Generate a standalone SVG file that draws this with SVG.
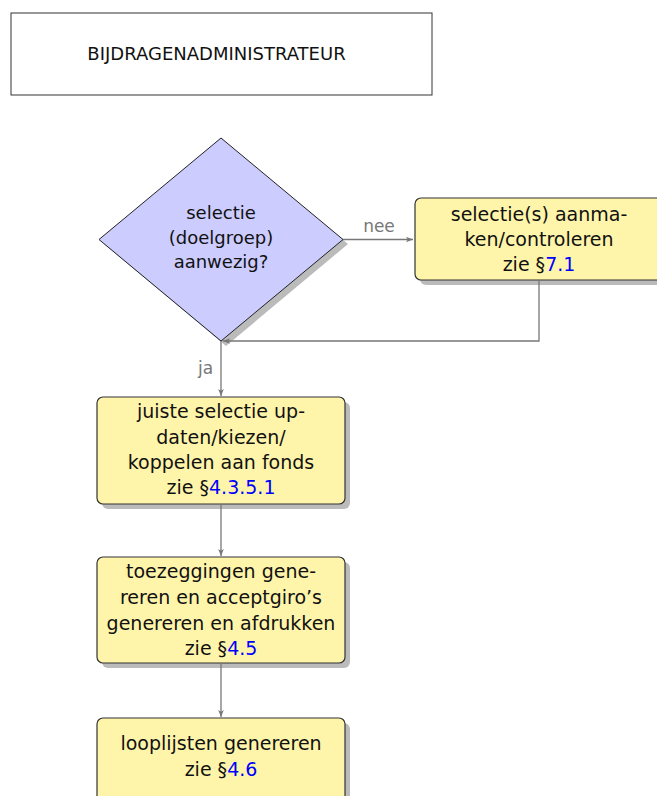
<svg xmlns="http://www.w3.org/2000/svg" width="657" height="796" viewBox="0 0 657 796">
<style>
text{font-family:"DejaVu Sans",Verdana,sans-serif;font-size:19px;fill:#111;text-anchor:middle}
.t18{font-size:18px}
.lbl{fill:#777;font-size:17px}
.ref{fill:#0000ff}
.box{fill:#fff5aa;stroke:#333;stroke-width:1.2}
.shadow{fill:#bbb}
.dia{fill:#ccccff;stroke:#222;stroke-width:1}
.conn{fill:none;stroke:#777;stroke-width:1.3}
</style>
<defs>
<marker id="arr" viewBox="0 0 10 10" refX="10" refY="5" markerWidth="7" markerHeight="7" markerUnits="userSpaceOnUse" orient="auto">
<path d="M0,1 L10,5 L0,9 L2.5,5 Z" fill="#777"/>
</marker>
</defs>
<rect width="657" height="796" fill="#fff"/>
<g id="title">
<rect x="11" y="13" width="421" height="82" fill="#fff" stroke="#333" stroke-width="1"/>
<text class="t18" x="216.5" y="60">BIJDRAGENADMINISTRATEUR</text>
</g>
<g id="decision">
<polygon class="shadow" points="226,143 348,244 226,346 104,244"/>
<polygon class="dia" points="221,138 343,239.5 221,341 99,239.5"/>
<text class="t18" x="221" y="219">selectie</text>
<text class="t18" x="221" y="243.5">(doelgroep)</text>
<text class="t18" x="221" y="268">aanwezig?</text>
</g>
<g id="selectie-aanmaken">
<rect class="shadow" x="420" y="203" width="250" height="82" rx="6"/>
<rect class="box" x="415" y="198" width="250" height="82" rx="6"/>
<text x="539" y="221">selectie(s) aanma-</text>
<text x="539" y="246">ken/controleren</text>
<text x="539" y="271">zie §<tspan class="ref">7.1</tspan></text>
</g>
<g id="juiste-selectie">
<rect class="shadow" x="102" y="402" width="248" height="107" rx="6"/>
<rect class="box" x="97" y="397" width="248" height="107" rx="6"/>
<text x="221" y="418">juiste selectie up-</text>
<text x="221" y="444">daten/kiezen/</text>
<text x="221" y="469">koppelen aan fonds</text>
<text x="221" y="494">zie §<tspan class="ref">4.3.5.1</tspan></text>
</g>
<g id="toezeggingen">
<rect class="shadow" x="102" y="562" width="248" height="106" rx="6"/>
<rect class="box" x="97" y="557" width="248" height="106" rx="6"/>
<text x="221" y="578">toezeggingen gene-</text>
<text x="221" y="604">reren en acceptgiro’s</text>
<text x="221" y="630">genereren en afdrukken</text>
<text x="221" y="655">zie §<tspan class="ref">4.5</tspan></text>
</g>
<g id="looplijsten">
<rect class="shadow" x="102" y="723" width="248" height="100" rx="6"/>
<rect class="box" x="97" y="718" width="248" height="100" rx="6"/>
<text x="221" y="750">looplijsten genereren</text>
<text x="221" y="776">zie §<tspan class="ref">4.6</tspan></text>
</g>
<g id="connectors">
<path class="conn" d="M343,239.5 H413" marker-end="url(#arr)"/>
<text class="lbl" x="379" y="232">nee</text>
<path class="conn" d="M539,280 V341 H223" marker-end="url(#arr)"/>
<path class="conn" d="M221,341 V396" marker-end="url(#arr)"/>
<text class="lbl" x="205.5" y="374">ja</text>
<path class="conn" d="M221,504 V556" marker-end="url(#arr)"/>
<path class="conn" d="M221,663 V717" marker-end="url(#arr)"/>
</g>
</svg>
